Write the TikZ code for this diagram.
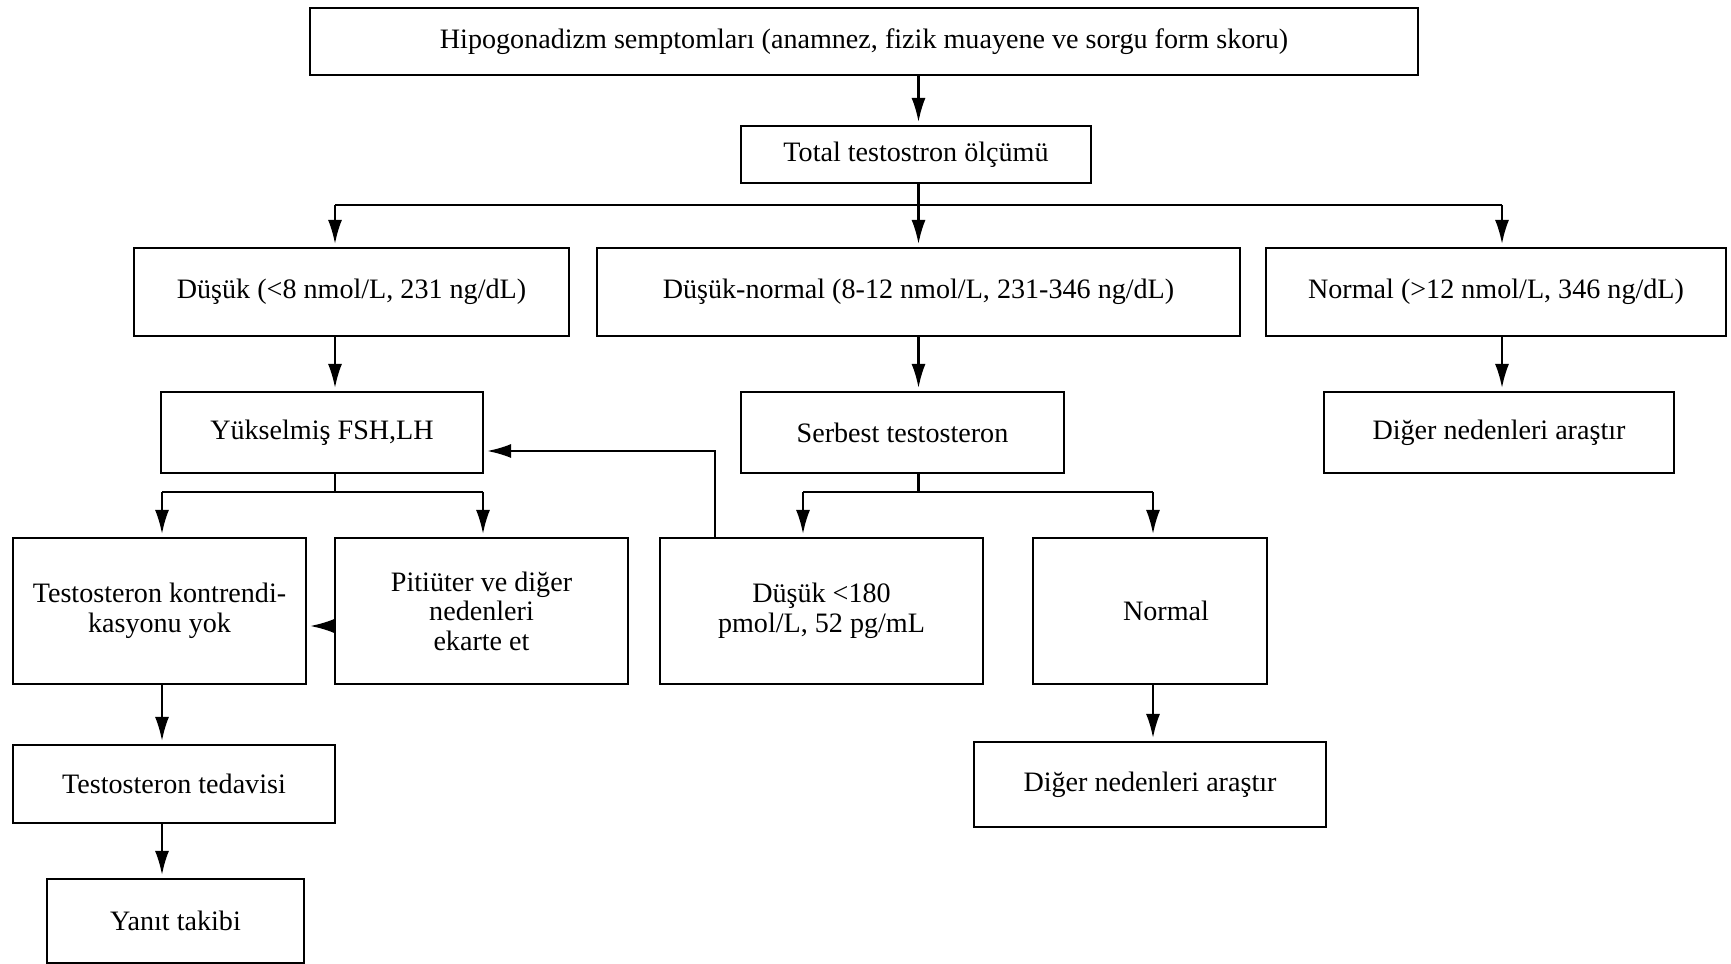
\documentclass[tikz,border=0pt]{standalone}
\usepackage{fontspec}
\setmainfont{Liberation Serif}
\usepackage{tikz}
\usetikzlibrary{arrows.meta,positioning}
\tikzset{box/.style 2 args={draw,inner sep=0pt,align=center,minimum width=#1*0.1mm,minimum height=#2*0.1mm,font=\fontsize{8}{8.4}\selectfont}}
\tikzset{arr/.style={-{Latex[length=2.4mm,width=1.4mm]},shorten >=.3mm}}

\begin{document}
\begin{tikzpicture}[x=0.1mm,y=-0.1mm,line width=.6pt]%
\useasboundingbox (0,0) rectangle (1731,964);
\begin{scope}%
\node[box={1108}{67}] (top) at (864,41.5) {Hipogonadizm semptomları (anamnez, fizik muayene ve sorgu form skoru)}; %%
\node[box={350}{57}] (total) at (916,154.5) {Total testostron ölçümü}; %%
\node[box={435}{88}] (low) at (351.5,292) {Düşük (<8 nmol/L, 231 ng/dL)}; %%
\node[box={643}{88}] (lownorm) at (918.5,292) {Düşük-normal (8-12 nmol/L, 231-346 ng/dL)}; %%
\node[box={460}{88}] (norm) at (1496,292) {Normal (>12 nmol/L, 346 ng/dL)}; %%
\node[box={322}{81}] (fshlh) at (322,432.5) {Yükselmiş FSH,LH}; %%
\node[box={323}{81}] (free) at (902.5,432.5) {Serbest testosteron}; %%
\node[box={350}{81}] (other1) at (1499,432.5) {Diğer nedenleri araştır}; %%
\node[box={293}{146}] (nocontra) at (159.5,611) {Testosteron kontrendi-\\kasyonu yok}; %%
\node[box={293}{146}] (pit) at (481.5,611) {Pitiüter ve diğer\\nedenleri\\ekarte et}; %%
\node[box={323}{146}] (lowfree) at (821.5,611) {Düşük <180\\pmol/L, 52 pg/mL}; %%
\node[box={234}{146}] (normfree) at (1150,611) {\hspace*{3.2mm}Normal}; %%
\node[box={322}{78}] (therapy) at (174,784) {Testosteron tedavisi}; %%
\node[box={257}{84}] (follow) at (175.5,921) {Yanıt takibi}; %%
\node[box={352}{85}] (other2) at (1150,784.5) {Diğer nedenleri araştır}; %%
\end{scope}
\coordinate (b1) at (335,205);
\coordinate (b2) at (1502,205);
\coordinate (c1) at (162,492);
\coordinate (c2) at (483,492);
\coordinate (c3) at (803,492);
\coordinate (c4) at (1153,492);
\coordinate (d1) at (715,451);
\coordinate (e1) at (0,626);

\draw[arr] (top.south -| lownorm) -- (total.north -| lownorm); %%
\draw[arr] (total.south -| lownorm) -- (lownorm.north); %%
\draw (b1) -- (b2); %%
\draw[arr] (b1) -- (b1 |- low.north); %%
\draw[arr] (b2) -- (b2 |- norm.north); %%
\draw[arr] (low.south -| b1) -- (fshlh.north -| b1); %%
\draw[arr] (lownorm.south) -- (free.north -| lownorm); %%
\draw[arr] (norm.south -| b2) -- (other1.north -| b2); %%

\draw (fshlh.south -| b1) -- (b1 |- c1); %%
\draw (c1) -- (c2); %%
\draw[arr] (c1) -- (c1 |- nocontra.north); %%
\draw[arr] (c2) -- (c2 |- pit.north); %%
\draw (free.south -| lownorm) -- (lownorm |- c3); %%
\draw (c3) -- (c4); %%
\draw[arr] (c3) -- (c3 |- lowfree.north); %%
\draw[arr] (c4) -- (c4 |- normfree.north); %%
\draw[arr] (d1 |- lowfree.north) -- (d1) -- (d1 -| fshlh.east); %%
\draw[arr] (e1 -| pit.west) -- (e1 -| nocontra.east); %%
\draw[arr] (nocontra.south -| c1) -- (therapy.north -| c1); %%
\draw[arr] (therapy.south -| c1) -- (follow.north -| c1); %%
\draw[arr] (normfree.south -| c4) -- (other2.north -| c4); %%

\end{tikzpicture}
\end{document}
